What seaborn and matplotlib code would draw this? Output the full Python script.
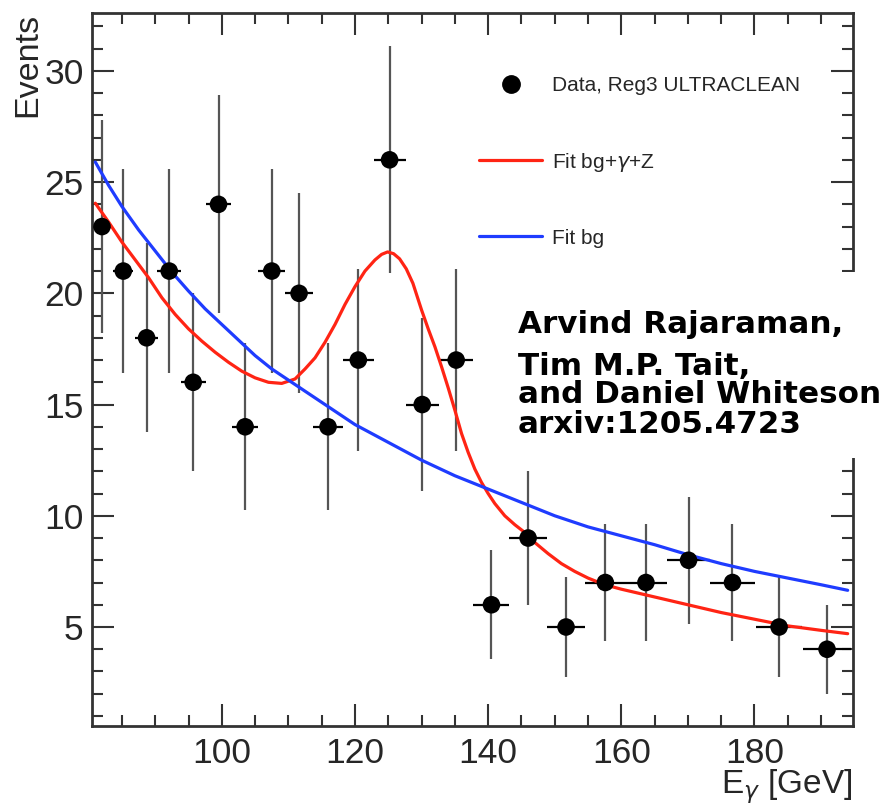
import numpy as np
import pandas as pd
import matplotlib
matplotlib.use("Agg")
import matplotlib.pyplot as plt
import seaborn as sns
from matplotlib.lines import Line2D
from matplotlib.patches import Rectangle
from matplotlib.ticker import MultipleLocator

# data points (photon energy bins)
e_gamma = [82.0, 85.2, 88.7, 92.1, 95.7, 99.5, 103.5, 107.5, 111.6, 115.95, 120.5, 125.2,
           130.1, 135.2, 140.5, 146.0, 151.7, 157.6, 163.7, 170.1, 176.7, 183.7, 190.9]
events = [23, 21, 18, 21, 16, 24, 14, 21, 20, 14, 17, 26, 15, 17, 6, 9, 5, 7, 7, 8, 7, 5, 4]
err_y = [4.8, 4.6, 4.25, 4.6, 4.0, 4.9, 3.75, 4.6, 4.5, 3.75, 4.1, 5.1,
         3.9, 4.1, 2.45, 3.0, 2.25, 2.65, 2.65, 2.85, 2.65, 2.25, 2.0]
err_x = [1.3, 1.5, 1.7, 1.8, 1.85, 1.9, 2.0, 2.05, 2.1, 2.2, 2.3, 2.4,
         2.5, 2.6, 2.7, 2.8, 2.9, 3.0, 3.1, 3.25, 3.4, 3.5, 3.6]

# background-only fit (blue)
bg_x = [81, 83, 85, 87.5, 90, 92.5, 95, 97.5, 100, 102.5, 105, 107.5, 110, 112.5, 115, 117.5,
        120, 122.5, 125, 127.5, 130, 132.5, 135, 137.5, 140, 142.5, 145, 147.5, 150,
        155, 160, 165, 170, 175, 180, 185, 190, 194]
bg_y = [25.9, 24.85, 23.9, 22.85, 21.9, 20.95, 20.1, 19.3, 18.6, 17.9, 17.2, 16.6, 16.1, 15.6, 15.1, 14.6,
        14.1, 13.7, 13.3, 12.9, 12.5, 12.15, 11.8, 11.5, 11.2, 10.9, 10.6, 10.3, 10.0,
        9.5, 9.1, 8.7, 8.25, 7.85, 7.5, 7.2, 6.9, 6.65]

# background + gamma + Z fit (red)
sig_x = [81, 83, 85, 87, 89, 91, 93, 95, 97, 99, 101, 103, 105, 107, 109, 111, 112.5, 114,
         115.5, 117, 118.5, 120, 121.5, 123, 124, 124.9, 125.8, 126.7, 127.7, 128.7, 130, 131, 132, 133,
         134, 135, 136, 137, 138, 139, 140, 141, 142.5, 144, 145.5, 147, 149, 151, 153,
         155, 157.5, 160, 165, 170, 175, 180, 185, 190, 194]
sig_y = [24.05, 23.2, 22.3, 21.5, 20.7, 19.8, 19.05, 18.4, 17.85, 17.35, 16.9, 16.5, 16.2, 16.0, 15.95,
         16.15, 16.6, 17.1, 17.8, 18.6, 19.5, 20.3, 21.0, 21.5, 21.75, 21.86, 21.78, 21.55, 21.1, 20.45, 19.25,
         18.4, 17.6, 16.7, 15.75, 14.75, 13.7, 12.85, 12.1, 11.5, 11.0, 10.55, 10.0, 9.6, 9.25,
         8.8, 8.3, 7.85, 7.5, 7.2, 6.9, 6.7, 6.35, 6.0, 5.65, 5.35, 5.05, 4.85, 4.7]

sns.set_style("ticks")
plt.rcParams['font.family'] = ['Liberation Sans', 'DejaVu Sans']

fig = plt.figure(figsize=(8.91, 8.07), dpi=100)
ax = fig.add_axes([92 / 891, 1 - 726 / 807, (853 - 92) / 891, (726 - 13) / 807])

red = "#ff2414"
blue = "#1f3cff"

df_bg = pd.DataFrame({"x": bg_x, "y": bg_y})
df_sig = pd.DataFrame({"x": sig_x, "y": sig_y})
sns.lineplot(data=df_sig, x="x", y="y", ax=ax, color=red, lw=2.3, zorder=3)
sns.lineplot(data=df_bg, x="x", y="y", ax=ax, color=blue, lw=2.3, zorder=3)

ax.errorbar(e_gamma, events, yerr=err_y, fmt="none", ecolor="#555555", elinewidth=1.6, zorder=2)
ax.errorbar(e_gamma, events, xerr=err_x, fmt="none", ecolor="black", elinewidth=1.6, zorder=2)
sns.scatterplot(x=e_gamma, y=events, ax=ax, color="black", s=160, edgecolor="none", zorder=4)

ax.set_xlim(80.5, 194.8)
ax.set_ylim(0.55, 32.6)
ax.xaxis.set_major_locator(MultipleLocator(20))
ax.xaxis.set_minor_locator(MultipleLocator(5))
ax.yaxis.set_major_locator(MultipleLocator(5))
ax.yaxis.set_minor_locator(MultipleLocator(1))
ax.tick_params(which="both", direction="in", top=True, right=True, color="#333333", width=1.5)
ax.tick_params(which="major", length=16, labelsize=25.5, pad=8)
ax.tick_params(which="minor", length=8)
ax.tick_params(axis="y", which="major", pad=6)
for sp in ax.spines.values():
    sp.set_color("#333333")
    sp.set_linewidth(2)

ax.set_xlabel(r"E$_\gamma$ [GeV]", fontsize=24, loc="right")
ax.xaxis.set_label_coords(1.0, -0.058)
ax.set_ylabel("Events", fontsize=24.5, loc="top")
ax.yaxis.set_label_coords(-0.064, 1.0)

handles = [
    Line2D([], [], marker="o", ls="none", color="black", markersize=12.5),
    Line2D([], [], color=red, lw=2.3),
    Line2D([], [], color=blue, lw=2.3),
]
labels = ["Data, Reg3 ULTRACLEAN", r"Fit bg+$\gamma$+Z", "Fit bg"]
ax.legend(handles, labels, loc="upper left", bbox_to_anchor=(471 / 891, 1 - 68 / 807),
          bbox_transform=fig.transFigure, frameon=False, fontsize=15,
          handlelength=3.0, handletextpad=0.5, labelspacing=2.65, borderaxespad=0)

# white label box over the right side
fig.patches.append(Rectangle((505 / 891, 1 - 458 / 807), 1 - 505 / 891, (458 - 272) / 807,
                             transform=fig.transFigure, facecolor="white", edgecolor="none", zorder=5))
author_font = dict(family=["DejaVu Sans"], fontweight="bold", fontsize=22.3,
                   color="black", ha="left", va="baseline", zorder=6)
fig.text(518 / 891, 1 - 333 / 807, "Arvind Rajaraman,", **author_font)
fig.text(518 / 891, 1 - 375 / 807, "Tim M.P. Tait,", **author_font)
fig.text(518 / 891, 1 - 403 / 807, "and Daniel Whiteson", **author_font)
fig.text(518 / 891, 1 - 433 / 807, "arxiv:1205.4723", **author_font)

fig.savefig("out.png", dpi=100)
